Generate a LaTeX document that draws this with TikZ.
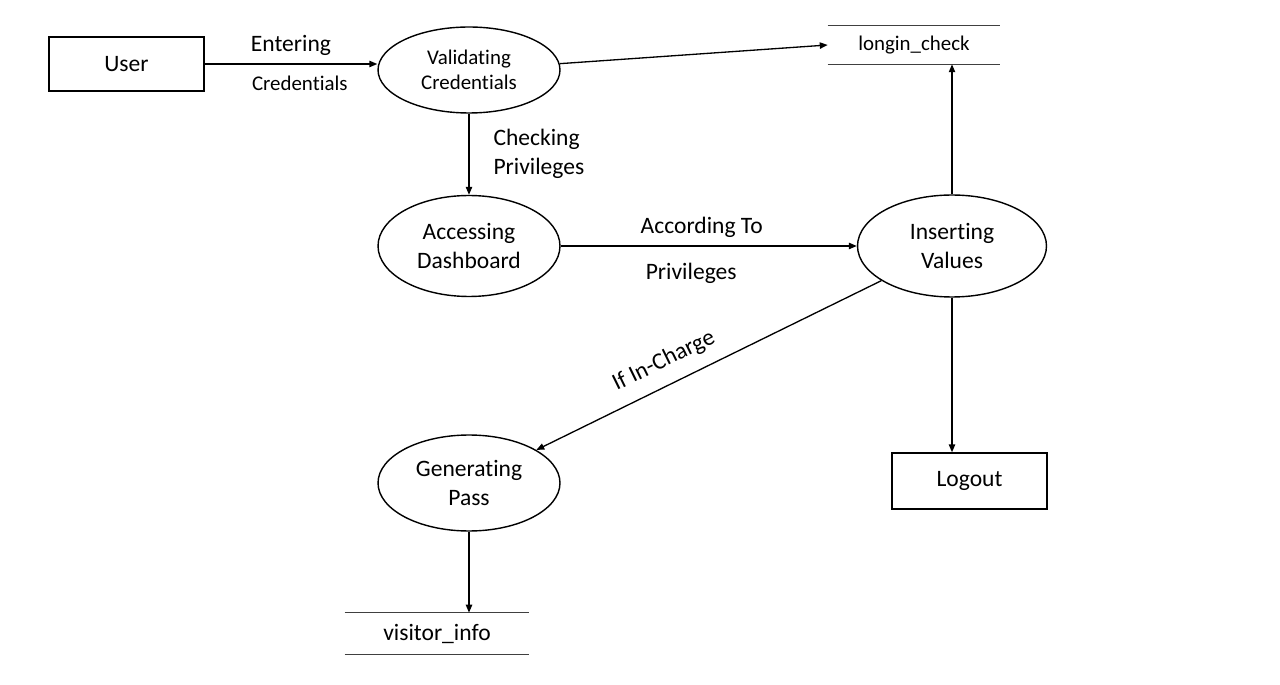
\documentclass[tikz,border=0pt]{standalone}
\usepackage{fontspec}
\setmainfont[Ligatures={CommonOff,ContextualOff,RequiredOff}, Contextuals=AlternateOff]{Carlito}
\usepackage{xcolor}
\usepackage{tikz}
\usetikzlibrary{positioning, arrows.meta, shapes.geometric}
\definecolor{storegray}{HTML}{404040}
\newcommand{\bigtxt}{\fontsize{13.4}{16.4}\selectfont}
\newcommand{\smalltxt}{\fontsize{11.9}{14}\selectfont}

\begin{document}
\begin{tikzpicture}[x=0.02cm, y=-0.02cm,
    flow/.style={draw, line width=0.75pt, -{Triangle[length=4.5pt, width=3.6pt]}},
    process/.style={ellipse, draw, line width=0.8pt, align=center, inner sep=0pt, font=\bigtxt},
    entity/.style={rectangle, draw, line width=0.8pt, font=\bigtxt},
    datastore/.style={inner sep=0pt, font=\bigtxt}]
    \useasboundingbox (0,0) rectangle (1280,685);

    % external entities
    \node[entity, minimum width=3.1cm, minimum height=1.08cm] (user) at (126.5,64) {User};
    \node[entity, minimum width=3.1cm, minimum height=1.12cm] (logout) at (969.5,481) {Logout};

    % processes
    \node[process, minimum width=3.64cm, minimum height=1.72cm, font=\smalltxt] (valid) at (469,70) {Validating\\Credentials};
    \node[process, minimum width=3.64cm, minimum height=2.02cm] (access) at (469,246) {Accessing\\Dashboard};
    \node[process, minimum width=3.78cm, minimum height=2.04cm] (insert) at (952,246) {Inserting\\Values};
    \node[process, minimum width=3.64cm, minimum height=1.92cm] (genpass) at (469,483) {Generating\\Pass};

    % data stores
    \node[datastore, minimum width=3.44cm, minimum height=0.76cm, font=\smalltxt] (login) at (914,45) {longin\_check};
    \draw[storegray, line width=0.75pt] (login.north west) -- (login.north east)
                                        (login.south west) -- (login.south east);
    \node[datastore, minimum width=3.68cm, minimum height=0.82cm] (visitor) at (437,633.5) {visitor\_info};
    \draw[storegray, line width=0.75pt] (visitor.north west) -- (visitor.north east)
                                        (visitor.south west) -- (visitor.south east);

    % flows
    \draw[flow] (user.east) -- (user.east -| valid.west)
        node[midway, above=1pt, font=\bigtxt] {Entering}
        node[midway, below=3pt, xshift=5, font=\smalltxt] {Credentials};
    \draw[flow] (valid) -- (login.west);
    \draw[flow] (valid.south) -- (access.north)
        node[midway, right, xshift=0.36cm, align=left, font=\bigtxt] {Checking\\Privileges};
    \draw[flow] (access.east) -- (insert.west)
        node[midway, above=1pt, xshift=-4, font=\bigtxt] {According To}
        node[midway, below=6pt, xshift=-10, font=\bigtxt] {Privileges};
    \draw[flow] (insert.north) -- (insert.north |- login.south);
    \draw[flow] (insert.south) -- (insert.south |- logout.north);
    \draw[flow] (insert) -- (genpass)
        node[pos=0.6, sloped, above=4pt, font=\bigtxt] {If In-Charge};
    \draw[flow] (genpass.south) -- (genpass.south |- visitor.north);
  \end{tikzpicture}
\end{document}
